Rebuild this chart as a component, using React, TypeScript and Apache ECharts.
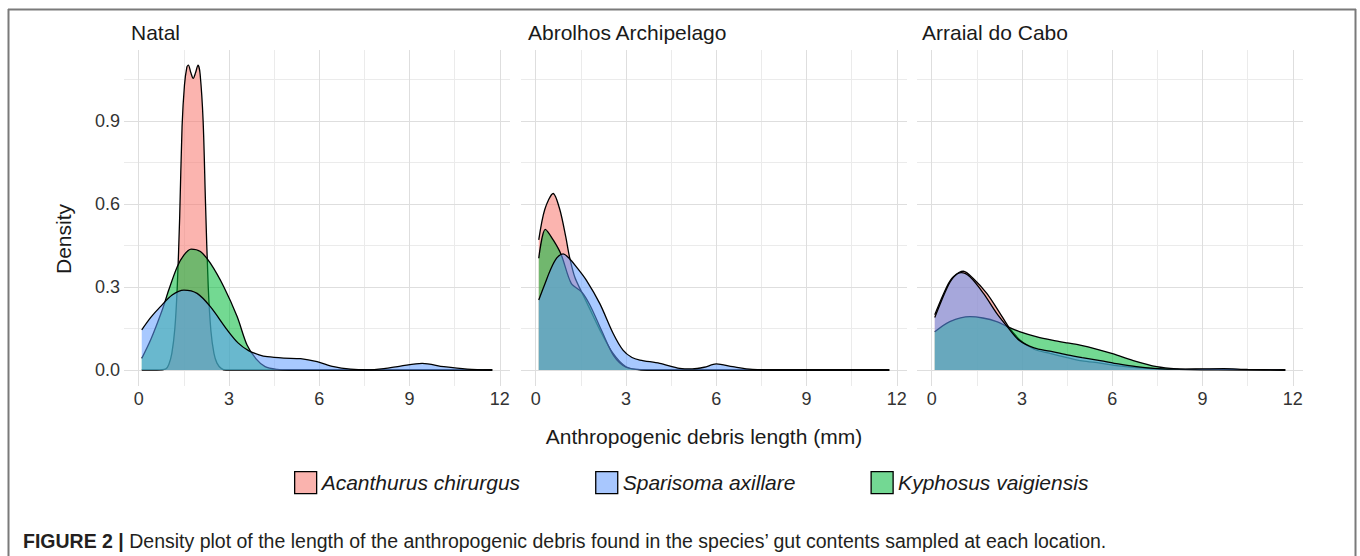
import React, { useEffect, useRef } from "react";
import * as echarts from "echarts";

const PANELS = ["Natal", "Abrolhos Archipelago", "Arraial do Cabo"];
const SPECIES = ["Acanthurus chirurgus", "Sparisoma axillare", "Kyphosus vaigiensis"];
const FILLS = ["#F8766D", "#619CFF", "#00BA38"];
const SWATCHES = ["#FAB3AE", "#A8C7FE", "#73D893"];

const X_TICKS = [0, 3, 6, 9, 12];
const X_MINOR = [1.5, 4.5, 7.5, 10.5];
const Y_TICKS = [0, 0.3, 0.6, 0.9];
const Y_MINOR = [0.15, 0.45, 0.75, 1.05];

// Natal
const natalAcanthurus = [
  [0.1, 0], [0.6, 0], [0.9, 0.004], [1.0, 0.02], [1.1, 0.06], [1.2, 0.15], [1.28, 0.3], [1.36, 0.55],
  [1.44, 0.88], [1.52, 1.03], [1.6, 1.095], [1.65, 1.102], [1.73, 1.075], [1.81, 1.054], [1.89, 1.075],
  [1.97, 1.102], [2.04, 1.07], [2.14, 0.9], [2.22, 0.6], [2.31, 0.3], [2.4, 0.14], [2.5, 0.06],
  [2.6, 0.025], [2.75, 0.005], [2.9, 0], [4, 0], [8, 0], [11.75, 0],
];
const natalSparisoma = [
  [0.1, 0.145], [0.4, 0.19], [0.72, 0.229], [1.11, 0.271], [1.5, 0.289], [1.94, 0.277], [2.38, 0.229],
  [2.94, 0.145], [3.3, 0.098], [3.65, 0.07], [4.0, 0.055], [4.27, 0.048], [4.82, 0.043], [5.38, 0.041],
  [5.93, 0.03], [6.48, 0.012], [7.04, 0.003], [7.6, 0.0005], [8.15, 0.005], [8.7, 0.014], [9.42, 0.024],
  [10.14, 0.012], [10.92, 0.003], [11.75, 0],
];
const natalKyphosus = [
  [0.1, 0.042], [0.4, 0.11], [0.78, 0.217], [1.0, 0.29], [1.28, 0.373], [1.5, 0.415], [1.74, 0.437],
  [2.05, 0.428], [2.38, 0.386], [2.83, 0.3], [3.27, 0.193], [3.6, 0.09], [3.9, 0.04], [4.2, 0.012],
  [4.6, 0.002], [5, 0], [8, 0], [11.75, 0],
];

// Abrolhos Archipelago
const abrolhosAcanthurus = [
  [0.1, 0.47], [0.3, 0.58], [0.58, 0.638], [0.8, 0.58], [1.0, 0.48], [1.12, 0.41], [1.3, 0.335],
  [1.52, 0.283], [1.8, 0.22], [2.13, 0.145], [2.57, 0.06], [3.0, 0.012], [3.5, 0.001], [4, 0], [8, 0], [11.75, 0],
];
const abrolhosSparisoma = [
  [0.1, 0.253], [0.3, 0.31], [0.5, 0.365], [0.7, 0.405], [0.91, 0.42], [1.1, 0.405], [1.35, 0.373],
  [1.68, 0.325], [2.13, 0.24], [2.57, 0.133], [2.9, 0.072], [3.2, 0.045], [3.46, 0.036], [4.12, 0.024],
  [4.79, 0.006], [5.2, 0.004], [5.6, 0.01], [6.0, 0.022], [6.55, 0.012], [7.2, 0.002], [7.8, 0], [11.75, 0],
];
const abrolhosKyphosus = [
  [0.1, 0.404], [0.32, 0.508], [0.58, 0.47], [0.85, 0.416], [1.18, 0.313], [1.52, 0.283], [1.8, 0.235],
  [2.2, 0.14], [2.6, 0.05], [3.0, 0.01], [3.5, 0.001], [4, 0], [8, 0], [11.75, 0],
];

// Arraial do Cabo
const arraialAcanthurus = [
  [0.1, 0.2], [0.5, 0.301], [0.72, 0.337], [1.05, 0.357], [1.38, 0.331], [1.83, 0.277], [2.27, 0.205],
  [2.55, 0.157], [2.94, 0.108], [3.4, 0.075], [3.93, 0.06], [4.5, 0.045], [5.0, 0.033], [5.6, 0.025],
  [6.2, 0.015], [6.8, 0.009], [7.5, 0.004], [8.2, 0.002], [9, 0.001], [11.75, 0],
];
const arraialSparisoma = [
  [0.1, 0.19], [0.5, 0.295], [0.72, 0.335], [0.98, 0.352], [1.27, 0.337], [1.72, 0.277], [2.16, 0.205],
  [2.51, 0.157], [2.9, 0.108], [3.4, 0.08], [3.93, 0.068], [4.5, 0.055], [5.0, 0.045], [5.6, 0.034],
  [6.2, 0.022], [6.8, 0.012], [7.5, 0.005], [8.2, 0.003], [9, 0.004], [9.7, 0.005], [10.5, 0.002], [11.75, 0],
];
const arraialKyphosus = [
  [0.1, 0.138], [0.6, 0.175], [1.27, 0.193], [1.7, 0.188], [2.16, 0.175], [2.51, 0.157], [2.94, 0.138],
  [3.5, 0.12], [4.0, 0.108], [4.5, 0.098], [4.93, 0.09], [5.5, 0.075], [6.04, 0.058], [6.7, 0.034],
  [7.48, 0.012], [8.14, 0.004], [8.8, 0.002], [9.5, 0.002], [10.5, 0.001], [11.75, 0],
];

const DATA = [
  [natalAcanthurus, natalSparisoma, natalKyphosus],
  [abrolhosAcanthurus, abrolhosSparisoma, abrolhosKyphosus],
  [arraialAcanthurus, arraialSparisoma, arraialKyphosus],
];

const FONT = "'Liberation Sans', Arial, Helvetica, sans-serif";
const GRID_LEFTS = [124, 521, 917];
const GRID_TOP = 50;
const GRID_W = 386;
const GRID_H = 336;
const TITLE_LEFTS = [131, 528, 922];
const DRAW_ORDER = [0, 2, 1];

export default function App() {
  const ref = useRef<HTMLDivElement>(null);

  useEffect(() => {
    if (!ref.current) return;
    const chart = echarts.init(ref.current, undefined, { renderer: "svg" });

    const grids = GRID_LEFTS.map((l) => ({ left: l, top: GRID_TOP, width: GRID_W, height: GRID_H }));
    const xAxes = PANELS.map((_, i) => ({
      type: "value",
      gridIndex: i,
      min: -0.49,
      max: 12.34,
      axisLine: { show: false },
      axisTick: { show: false },
      splitLine: { show: false },
      axisLabel: {
        customValues: X_TICKS,
        margin: 4,
        fontSize: 18,
        color: "#333333",
        fontFamily: FONT,
        formatter: (v: number) => String(v),
      },
    }));
    const yAxes = PANELS.map((_, i) => ({
      type: "value",
      gridIndex: i,
      min: -0.0578,
      max: 1.1566,
      axisLine: { show: false },
      axisTick: { show: false },
      splitLine: { show: false },
      axisLabel: {
        show: i === 0,
        customValues: Y_TICKS,
        margin: 4,
        fontSize: 18,
        color: "#333333",
        fontFamily: FONT,
        formatter: (v: number) => v.toFixed(1),
      },
    }));

    const series: any[] = [];
    PANELS.forEach((_, i) => {
      const lines: any[] = [];
      X_MINOR.forEach((v) => lines.push({ xAxis: v, lineStyle: { color: "#EBEBEB", width: 1, type: "solid" } }));
      Y_MINOR.forEach((v) => lines.push({ yAxis: v, lineStyle: { color: "#EBEBEB", width: 1, type: "solid" } }));
      X_TICKS.forEach((v) => lines.push({ xAxis: v, lineStyle: { color: "#DEDEDE", width: 1, type: "solid" } }));
      Y_TICKS.forEach((v) => lines.push({ yAxis: v, lineStyle: { color: "#DEDEDE", width: 1, type: "solid" } }));
      series.push({
        type: "line",
        xAxisIndex: i,
        yAxisIndex: i,
        data: [],
        silent: true,
        z: 0,
        markLine: {
          silent: true,
          z: 0,
          animation: false,
          symbol: ["none", "none"],
          label: { show: false },
          data: lines,
        },
      });
      DRAW_ORDER.forEach((s, k) => {
        series.push({
          type: "line",
          name: SPECIES[s],
          xAxisIndex: i,
          yAxisIndex: i,
          data: DATA[i][s],
          smooth: 0.3,
          symbol: "none",
          showSymbol: false,
          silent: true,
          z: 2 + k,
          itemStyle: { color: SWATCHES[s] },
          lineStyle: { color: "#000000", width: 1.3 },
          areaStyle: { color: FILLS[s], opacity: 0.55 },
        });
      });
    });

    const option: any = {
      animation: false,
      backgroundColor: "#ffffff",
      textStyle: { fontFamily: FONT },
      title: PANELS.map((p, i) => ({
        text: p,
        left: TITLE_LEFTS[i],
        top: 22,
        padding: 0,
        textStyle: { fontSize: 21, fontWeight: "normal", color: "#1a1a1a", fontFamily: FONT },
      })),
      legend: {
        left: 294,
        top: 471,
        itemWidth: 22,
        itemHeight: 22,
        itemGap: 75,
        padding: 0,
        selectedMode: false,
        textStyle: { fontSize: 21, fontStyle: "italic", color: "#1a1a1a", fontFamily: FONT },
        data: SPECIES.map((s, k) => ({
          name: s,
          icon: "rect",
          itemStyle: { color: SWATCHES[k], borderColor: "#000000", borderWidth: 1.3 },
        })),
      },
      grid: grids,
      xAxis: xAxes,
      yAxis: yAxes,
      series,
      graphic: [
        { type: "line", shape: { x1: 8, y1: 9.5, x2: 1356, y2: 9.5 }, style: { stroke: "#7a7a7a", lineWidth: 2 } },
        { type: "line", shape: { x1: 8.5, y1: 9, x2: 8.5, y2: 556 }, style: { stroke: "#7a7a7a", lineWidth: 2 } },
        { type: "line", shape: { x1: 1355.5, y1: 9, x2: 1355.5, y2: 556 }, style: { stroke: "#7a7a7a", lineWidth: 2 } },
        {
          type: "text",
          x: 63,
          y: 239,
          rotation: Math.PI / 2,
          style: { text: "Density", fontSize: 21, fontFamily: FONT, fill: "#1a1a1a", align: "center", verticalAlign: "middle" },
        },
        {
          type: "text",
          x: 704,
          y: 436,
          style: {
            text: "Anthropogenic debris length (mm)",
            fontSize: 21,
            fontFamily: FONT,
            fill: "#1a1a1a",
            align: "center",
            verticalAlign: "middle",
          },
        },
        {
          type: "text",
          x: 23,
          y: 541,
          style: {
            text: "{b|FIGURE 2 |} Density plot of the length of the anthropogenic debris found in the species\u2019 gut contents sampled at each location.",
            fontSize: 19.5,
            fontFamily: FONT,
            fill: "#231F20",
            align: "left",
            verticalAlign: "middle",
            rich: {
              b: { fontSize: 19.5, fontWeight: "bold", fontFamily: FONT, fill: "#231F20" },
            },
          },
        },
      ],
    };

    chart.setOption(option);
    return () => chart.dispose();
  }, []);

  return (
    <div
      ref={ref}
      style={{ position: "absolute", left: 0, top: 0, width: 1360, height: 556, background: "#fff" }}
    />
  );
}
